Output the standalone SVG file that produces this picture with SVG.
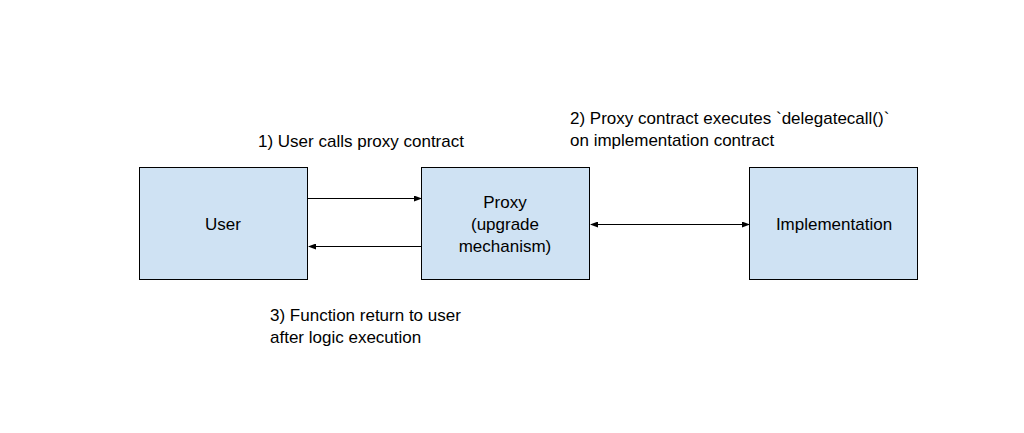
<svg xmlns="http://www.w3.org/2000/svg" width="1024" height="433" viewBox="0 0 1024 433">
<style>
.box{fill:#cfe2f3;stroke:#000;stroke-width:1}
text{font-family:"Liberation Sans",Arial,sans-serif;font-size:17px;fill:#000}
.c{text-anchor:middle}
.ln{stroke:#000;stroke-width:1;fill:none}
</style>
<defs>
<marker id="ah" markerWidth="8" markerHeight="6" refX="7" refY="3" orient="auto-start-reverse" markerUnits="userSpaceOnUse">
<path d="M0,0 L8,3 L0,6 z" fill="#000"/>
</marker>
</defs>
<rect width="1024" height="433" fill="#fff"/>
<g id="user"><rect class="box" x="139.5" y="167.5" width="168" height="112"/><text class="c" x="223" y="230">User</text></g>
<g id="proxy"><rect class="box" x="421.5" y="167.5" width="168" height="112"/><text class="c" x="505" y="208">Proxy</text><text class="c" x="505" y="230">(upgrade</text><text class="c" x="505" y="252">mechanism)</text></g>
<g id="implementation"><rect class="box" x="749.5" y="167.5" width="168" height="112"/><text class="c" x="834" y="230">Implementation</text></g>
<g id="connectors">
<line class="ln" x1="308" y1="198.5" x2="421" y2="198.5" marker-end="url(#ah)"/>
<line class="ln" x1="421" y1="246.5" x2="309" y2="246.5" marker-end="url(#ah)"/>
<line class="ln" x1="591" y1="224.5" x2="749" y2="224.5" marker-start="url(#ah)" marker-end="url(#ah)"/>
</g>
<g id="labels">
<text x="258" y="147">1) User calls proxy contract</text>
<text x="570" y="124">2) Proxy contract executes `delegatecall()`</text>
<text x="570" y="146">on implementation contract</text>
<text x="270" y="321">3) Function return to user</text>
<text x="270" y="343">after logic execution</text>
</g>
</svg>
